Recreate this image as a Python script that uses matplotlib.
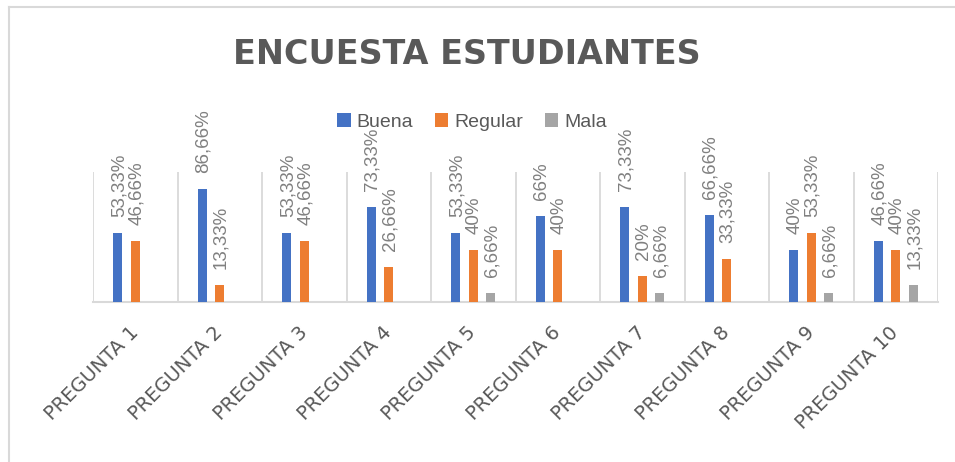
import matplotlib
matplotlib.use("Agg")
import matplotlib.pyplot as plt
import numpy as np
from matplotlib.lines import Line2D

# datos de la encuesta (porcentajes)
preguntas = ["PREGUNTA 1", "PREGUNTA 2", "PREGUNTA 3", "PREGUNTA 4", "PREGUNTA 5",
             "PREGUNTA 6", "PREGUNTA 7", "PREGUNTA 8", "PREGUNTA 9", "PREGUNTA 10"]
buena = [53.33, 86.66, 53.33, 73.33, 53.33, 66, 73.33, 66.66, 40, 46.66]
regular = [46.66, 13.33, 46.66, 26.66, 40, 40, 20, 33.33, 53.33, 40]
mala = [None, None, None, None, 6.66, None, 6.66, None, 6.66, 13.33]
series = ["Buena", "Regular", "Mala"]
colores = ["#4472C4", "#ED7D31", "#A5A5A5"]

GRIS = "#595959"
GRIS_LABEL = "#808080"
GRID = "#D9D9D9"


def fmt(v):
    s = ("%.2f" % v).rstrip("0").rstrip(".")
    return s.replace(".", ",") + "%"


fig = plt.figure(figsize=(9.55, 4.62), dpi=100)
ax = fig.add_axes([93 / 955, 1 - 302 / 462, (938 - 93) / 955, 130 / 462])

x = np.arange(len(preguntas))
ancho = 0.107
paso = 0.207

for i, (nombre, vals, col) in enumerate(zip(series, [buena, regular, mala], colores)):
    xs = [xi + (i - 1) * paso for xi, v in zip(x, vals) if v is not None]
    ys = [v for v in vals if v is not None]
    bars = ax.bar(xs, ys, width=ancho, color=col, label=nombre, zorder=3)
    for b, v in zip(bars, ys):
        ax.annotate(fmt(v), (b.get_x() + b.get_width() / 2, b.get_height()),
                    xytext=(1, 16), textcoords="offset pixels",
                    rotation=90, ha="center", va="bottom",
                    fontsize=13.5, color=GRIS_LABEL, family="Liberation Sans",
                    annotation_clip=False)

ax.set_xlim(-0.5, len(preguntas) - 0.5)
ax.set_ylim(0, 100)

# lineas verticales entre categorias
for xb in np.arange(-0.5, len(preguntas), 1.0):
    ax.axvline(xb, color=GRID, lw=1.3, zorder=1)

for s in ["top", "right", "left"]:
    ax.spines[s].set_visible(False)
ax.spines["bottom"].set_color(GRID)
ax.spines["bottom"].set_linewidth(1.5)
ax.set_yticks([])
ax.set_xticks(x)
ax.set_xticklabels(preguntas, rotation=45, ha="right", va="center",
                   rotation_mode="anchor", fontsize=14, color=GRIS,
                   family="DejaVu Sans")
ax.tick_params(axis="x", length=0, pad=20)

fig.text(467 / 955, 1 - 54 / 462, "ENCUESTA ESTUDIANTES", ha="center", va="center",
         fontsize=24, fontweight="bold", color=GRIS, family="DejaVu Sans")

leg = fig.legend(loc="center", bbox_to_anchor=(472 / 955, 1 - 122 / 462), ncol=3,
                 frameon=False, handlelength=0.7, handleheight=0.7,
                 handletextpad=0.3, columnspacing=1.1,
                 prop={"family": "Liberation Sans", "size": 14})
for t in leg.get_texts():
    t.set_color(GRIS)

# marco del grafico
fig.add_artist(Line2D([9 / 955, 9 / 955], [0, 1 - 7 / 462], transform=fig.transFigure,
                      color=GRID, lw=1.5))
fig.add_artist(Line2D([9 / 955, 1], [1 - 7 / 462, 1 - 7 / 462], transform=fig.transFigure,
                      color=GRID, lw=1.5))

fig.savefig("out.png", dpi=100)
